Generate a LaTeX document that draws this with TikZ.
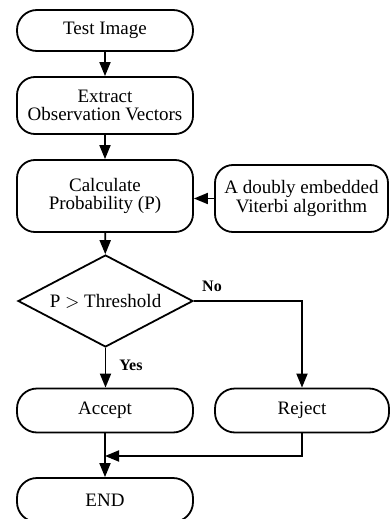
\documentclass[tikz,border=0pt]{standalone}
\usepackage{fontspec}
\setmainfont{Liberation Serif}
\usetikzlibrary{shapes.geometric,arrows.meta}
\tikzset{
  box/.style={draw, line width=0.9pt, rounded corners=9pt, align=center,
    inner sep=0pt, font=\fontsize{9.5}{9.3}\selectfont},
  pill/.style={box, rounded corners=10pt},
  decision/.style={draw, line width=0.9pt, diamond, inner sep=0pt, aspect=1.9,
    font=\fontsize{9.5}{9.3}\selectfont},
  flow/.style={line width=0.9pt, -{Triangle[length=7pt,width=5.5pt]}},
  tag/.style={font=\fontsize{8}{9}\selectfont\bfseries, inner sep=0pt}
}
\begin{document}
\begin{tikzpicture}[x=0.5pt,y=-0.5pt]
  \useasboundingbox (0,0) rectangle (390,519);
  \clip (0,0) rectangle (390,519);

  % main column
  \node[pill, minimum width=88pt, minimum height=20.5pt] (test) at (105,30.5) {Test Image};
  \node[box, minimum width=88pt, minimum height=28.5pt] (extract) at (105,105.5) {Extract\\Observation Vectors};
  \node[box, minimum width=88pt, minimum height=36pt] (calc) at (105,196) {Calculate\\Probability (P)};
  \node[box, minimum width=86.5pt, minimum height=33.5pt] (viterbi) at (301.5,198.5) {A doubly embedded\\Viterbi algorithm};
  \node[decision, minimum width=87.5pt, minimum height=46pt] (dec) at (105.5,301) {P $>$ Threshold};
  \node[pill, minimum width=88pt, minimum height=22pt] (accept) at (105,410.5) {Accept};
  \node[pill, minimum width=87pt, minimum height=22pt] (reject) at (302,410.5) {Reject};
  \node[pill, minimum width=88pt, minimum height=22pt] (end) at (105,500) {END};

  \coordinate (join) at (105,456);

  % connectors
  \draw[flow] (test) -- (extract);
  \draw[flow] (extract) -- (calc);
  \draw[flow] (viterbi.west) -- (viterbi.west -| calc.east);
  \draw[flow] (calc) -- (dec);
  \draw[flow] (dec.south) -- (accept.north -| dec.south);
  \draw[flow] (dec.east) -- (dec.east -| reject.north) -- (reject.north);
  \draw[flow] (accept) -- (end);
  \draw[flow] (reject.south) |- (join);

  % branch labels
  \node[tag] (no) at (212,286) {No};
  \node[tag] (yes) at (131,365) {Yes};
\end{tikzpicture}
\end{document}
